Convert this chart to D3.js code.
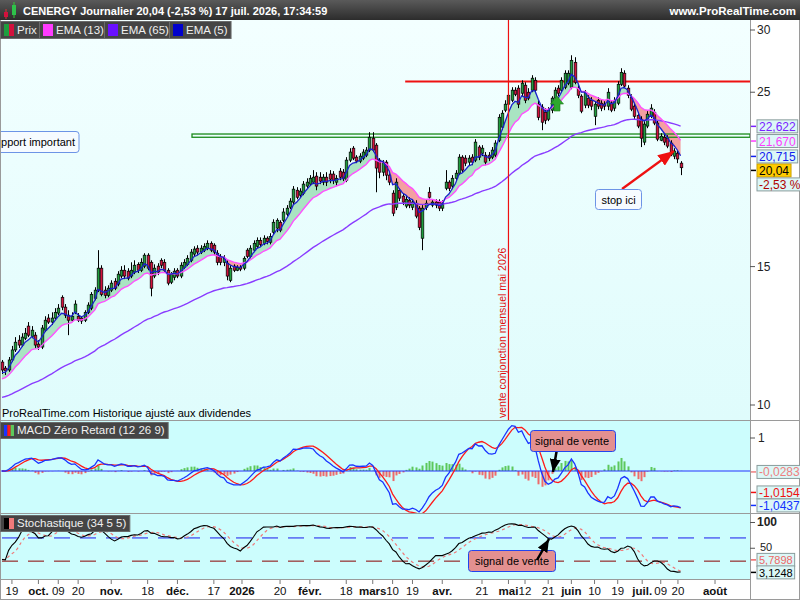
<!DOCTYPE html>
<html lang="fr">
<head>
<meta charset="UTF-8">
<script src="https://d3js.org/d3.v7.min.js"></script>
<title>CENERGY Journalier</title>
<style>
  body { margin: 0; background: #fff; }
  svg text { font-family: "Liberation Sans", Arial, sans-serif; }
</style>
</head>
<body>
<svg id="chart" width="800" height="600"></svg>
<script>
// daily bars, CENERGY
const opens = [
  11.34,11.14,11.08,11.41,11.75,12.09,11.92,12.16,12.60,12.23,
  12.27,11.95,11.85,12.45,12.90,12.75,12.90,13.09,13.71,13.32,
  13.01,12.82,13.12,12.97,12.90,12.82,13.12,13.28,13.67,14.00,
  14.93,14.00,13.79,14.00,14.37,14.25,14.59,14.84,14.80,14.59,
  14.76,15.10,14.84,15.02,15.51,15.19,14.59,15.02,15.28,15.19,
  14.84,14.33,14.54,14.84,14.59,14.97,15.10,15.28,15.56,15.83,
  15.65,15.74,15.83,16.06,15.97,15.60,15.46,15.19,15.15,14.41,
  15.02,14.84,14.97,14.93,15.74,15.46,15.74,15.92,16.20,16.06,
  16.30,16.11,16.59,16.79,17.08,17.18,17.49,17.85,18.12,18.76,
  18.49,18.60,18.99,19.10,19.21,19.55,19.49,19.21,19.49,19.67,
  19.67,19.21,19.84,19.78,19.32,20.49,21.22,20.67,20.43,20.61,
  20.79,21.10,21.85,21.41,20.49,19.78,20.37,19.61,18.60,17.85,
  18.76,18.44,17.91,18.22,17.85,18.06,17.80,16.30,17.85,18.65,
  17.96,18.12,18.12,17.80,18.87,19.21,18.99,19.43,19.72,20.67,
  20.61,20.37,20.67,20.49,21.29,20.91,20.79,20.79,20.67,20.79,
  21.72,22.57,23.72,24.14,24.42,25.15,25.30,24.93,25.52,25.00,
  25.15,25.89,24.14,23.93,23.58,23.10,23.72,24.57,25.30,25.15,
  25.37,25.67,25.37,27.29,25.30,24.71,24.07,24.57,24.42,23.30,
  24.42,24.21,24.14,24.00,24.21,23.86,24.21,25.59,26.43,25.30,
  24.64,24.00,23.37,23.10,21.60,22.64,23.30,23.58,22.84,21.72,
  21.91,21.85,21.54,20.73,20.91,20.31
];
const highs = [
  11.41,11.21,11.51,11.89,12.20,12.27,12.34,12.53,12.75,12.60,
  12.38,12.09,12.64,12.97,13.05,13.12,13.28,13.44,13.79,13.44,
  13.20,13.12,13.59,13.09,12.97,13.20,13.51,13.92,14.12,15.74,
  15.06,14.16,14.20,14.41,14.50,14.80,15.02,15.06,14.93,15.19,
  15.28,15.19,15.37,15.60,15.60,15.28,15.10,15.15,15.37,15.33,
  14.93,14.76,14.93,14.93,15.19,15.33,15.51,15.79,15.92,15.97,
  15.97,16.06,16.20,16.15,16.06,15.74,15.56,15.51,15.28,15.06,
  15.10,15.06,15.06,15.46,15.83,15.97,16.20,16.34,16.34,16.44,
  16.39,16.54,17.23,17.28,17.18,17.80,17.96,18.33,18.99,18.93,
  18.87,19.27,19.43,19.61,19.90,19.78,19.78,19.67,19.78,19.90,
  19.84,19.61,20.02,19.96,20.67,21.22,21.35,20.79,20.91,21.16,
  21.29,22.24,22.24,21.54,20.61,20.49,20.49,19.72,18.76,19.43,
  18.87,18.60,18.44,18.38,18.27,18.22,17.91,17.96,18.22,18.93,
  18.27,18.27,18.27,18.22,19.90,19.32,19.61,19.90,20.85,20.79,
  20.79,20.79,20.85,21.79,21.41,21.41,20.98,20.98,21.29,21.72,
  23.44,23.72,24.42,25.00,25.37,25.37,25.52,25.89,25.74,25.30,
  26.28,26.12,24.42,24.14,23.86,23.93,24.71,25.37,25.52,26.12,
  26.66,26.66,27.86,27.70,25.52,24.85,25.15,24.78,24.64,24.35,
  24.64,24.42,24.35,25.30,24.42,24.64,25.82,26.82,26.66,25.52,
  24.85,24.21,23.58,23.30,22.97,23.65,24.14,23.79,23.03,22.17,
  22.11,22.04,21.72,21.22,21.10,20.43
];
const lows = [
  10.95,10.92,11.02,11.34,11.68,11.82,11.85,12.09,12.20,12.16,
  11.82,11.75,11.78,12.38,12.68,12.64,12.82,13.01,13.20,12.90,
  12.27,12.75,13.05,12.75,12.68,12.75,13.05,13.20,13.59,13.92,
  13.75,13.67,13.71,13.92,14.00,14.16,14.50,14.46,14.41,14.50,
  14.67,14.72,14.76,14.93,14.84,13.75,14.50,14.63,14.93,14.76,
  14.20,14.25,14.41,14.50,14.50,14.89,15.02,15.19,15.46,15.51,
  15.56,15.65,15.74,15.65,15.51,15.06,15.06,15.02,14.41,14.33,
  14.76,14.80,14.80,14.84,15.37,15.37,15.65,15.83,15.88,15.97,
  16.01,16.01,16.49,16.59,16.59,17.08,17.39,17.75,17.96,18.27,
  18.38,18.49,18.87,18.99,19.10,18.76,19.10,19.04,18.99,19.15,
  19.10,18.99,19.32,19.27,19.21,20.37,20.49,20.31,20.31,20.49,
  20.67,20.98,20.98,18.65,19.43,19.55,19.32,19.04,17.39,17.70,
  18.17,17.96,17.80,17.80,17.70,17.28,16.69,15.74,17.70,18.22,
  17.85,17.80,17.65,17.65,18.76,18.71,18.82,19.32,19.61,19.78,
  20.13,20.19,20.19,20.37,20.49,20.73,20.19,20.43,20.55,20.67,
  21.60,22.37,23.58,23.93,24.28,24.71,23.86,24.71,24.21,24.42,
  25.00,24.93,23.03,22.37,22.77,22.97,23.51,24.42,24.71,25.00,
  25.22,25.52,25.22,25.59,24.57,23.51,23.86,23.86,23.72,22.70,
  23.79,23.65,23.72,23.72,23.58,23.65,24.07,25.45,25.30,24.57,
  23.65,23.10,22.50,21.29,21.41,22.50,23.17,22.70,21.66,21.66,
  21.41,21.22,20.73,20.55,20.31,19.61
];
const closes = [
  11.08,11.05,11.41,11.75,12.02,11.92,12.20,12.34,12.27,12.45,
  11.92,11.85,12.53,12.82,12.75,12.90,13.12,13.28,13.32,13.01,
  12.82,12.97,13.44,12.82,12.79,13.12,13.40,13.83,14.00,14.93,
  13.83,13.79,14.08,14.29,14.08,14.67,14.84,14.59,14.50,14.84,
  15.06,14.84,15.19,15.51,14.93,14.08,14.93,14.76,15.06,14.84,
  14.29,14.67,14.80,14.59,15.06,15.19,15.37,15.65,15.79,15.65,
  15.83,15.92,16.06,15.74,15.65,15.19,15.19,15.37,14.59,14.93,
  14.84,14.97,14.89,15.37,15.46,15.83,16.06,16.20,16.01,16.30,
  16.15,16.39,17.08,17.18,16.69,17.60,17.80,18.17,18.82,18.38,
  18.71,19.10,19.21,19.43,19.49,18.99,19.27,19.49,19.21,19.38,
  19.32,19.43,19.49,19.43,20.49,20.98,20.61,20.43,20.73,20.98,
  21.10,21.91,21.10,20.02,19.78,20.37,19.61,19.21,17.54,19.21,
  18.33,18.12,18.27,17.96,18.12,17.39,16.83,17.80,18.06,18.38,
  18.12,17.96,17.80,18.06,19.21,18.87,19.43,19.72,20.67,19.90,
  20.31,20.61,20.37,21.60,20.67,21.22,20.37,20.61,21.10,21.54,
  23.23,23.51,24.14,24.78,25.15,24.85,24.14,25.67,24.42,24.57,
  26.05,25.15,23.23,22.90,23.03,23.72,24.57,25.15,24.93,25.89,
  26.43,26.43,27.45,25.74,24.78,23.65,25.00,24.07,24.00,24.14,
  24.00,23.86,24.00,25.00,23.72,24.42,25.59,26.50,25.45,24.78,
  23.79,23.30,22.64,21.85,22.77,23.44,23.86,22.84,21.79,21.98,
  21.60,21.35,20.85,21.04,20.56,20.04
];

// date axis: [bar index, label, month?]
const dateTicks = [
  [3,"19",0],[11,"oct.",1],[17,"09",0],[23,"20",0],[33,"nov.",1],[44,"18",0],
  [53,"déc.",1],[64,"17",0],[72.5,"2026",1],[84,"20",0],[93,"févr.",1],[104,"18",0],
  [112,"mars",1],[118,"10",0],[124,"19",0],[133,"avr.",1],[145,"21",0],[153,"mai",1],
  [158,"12",0],[165,"21",0],[172,"juin",1],[179,"10",0],[186,"19",0],[193.4,"juil.",1],
  [199,"09",0],[204.2,"20",0],[215.4,"août",1]
];
const priceTicks = [10, 15, 25, 30];
const macdTicks = [1];
const stochTicks = [[100, true], [50, false]];
const stochLevels = [70, 25];

// EMA values at the first visible bar (history starts before the window)
const emaSeeds = { 5: 10.95, 13: 10.75, 65: 10.20 };

// last values shown in the right scale
const priceLast = [["22,622", 22.622, "#7a22ff"], ["21,670", 21.670, "#ff3cff"], ["20,715", 20.715, "#1020ee"], ["20,04", 20.04, "#000"]];
const macdLast = [["-1,0437", -1.0437, "#1030ff"], ["-1,0154", -1.0154, "#ee1111"], ["-0,0283", -0.0283, "#ee8080"]];
const stochLast = [["3,1248", 3.1248, "#000"], ["5,7898", 5.7898, "#ee6666"]];

// drawings
const supportZone = [21.91, 22.12], supportFrom = 57.4;
const resistanceLevel = 25.8, resistanceFrom = 121.8;
const signalBar = 153;

const svg = d3.select("#chart");
const W = 800, H = 600, plotR = 750;
const FS = 11;
const x = d3.scaleLinear().domain([0, closes.length - 1]).range([2, 680.6]);
const yP = d3.scaleLog().domain([10, 30]).range([405, 30]);
const yM = d3.scaleLinear().domain([-1.5, 1.5]).range([520.5, 421.5]);
const yS = d3.scaleLinear().domain([0, 100]).range([574, 522.5]);

// indicators
function ema(vals, n, seed) {
  const k = 2 / (n + 1);
  let e = seed === undefined ? vals[0] : seed;
  return vals.map((v, i) => {
    if (i === 0 && seed === undefined) return e;
    e = e + k * (v - e);
    return e;
  });
}
function zeroLag(vals, n) {
  const e1 = ema(vals, n), e2 = ema(e1, n);
  return e1.map((v, i) => 2 * v - e2[i]);
}
function sma(vals, n) {
  return vals.map((_, i) => d3.mean(vals.slice(Math.max(0, i - n + 1), i + 1)));
}
const ema5 = ema(closes, 5, emaSeeds[5]);
const ema13 = ema(closes, 13, emaSeeds[13]);
const ema65 = ema(closes, 65, emaSeeds[65]);
const z12 = zeroLag(closes, 12), z26 = zeroLag(closes, 26);
const macd = z12.map((v, i) => v - z26[i]);
const signal = zeroLag(macd, 9);
const hist = macd.map((v, i) => v - signal[i]);
const raw = closes.map((c, i) => {
  const s = Math.max(0, i - 33);
  const hh = d3.max(highs.slice(s, i + 1)), ll = d3.min(lows.slice(s, i + 1));
  return hh === ll ? 50 : (c - ll) / (hh - ll) * 100;
});
const stochK = sma(raw, 5), stochD = sma(stochK, 5);
const idx = d3.range(closes.length);

// defs
const defs = svg.append("defs");
const g1 = defs.append("linearGradient").attr("id", "hdr").attr("x1", 0).attr("x2", 0).attr("y1", 0).attr("y2", 1);
g1.append("stop").attr("offset", "0%").attr("stop-color", "#5a5a5a");
g1.append("stop").attr("offset", "100%").attr("stop-color", "#2c2c2c");
const g2 = defs.append("linearGradient").attr("id", "bgMain").attr("x1", 0).attr("x2", 0).attr("y1", 0).attr("y2", 1);
g2.append("stop").attr("offset", "0%").attr("stop-color", "#f3ffff");
g2.append("stop").attr("offset", "100%").attr("stop-color", "#dffcfc");
[["clipMain", 20, 400], ["clipMacd", 421, 92], ["clipStoch", 514, 65]].forEach(([id, y0, h]) => {
  defs.append("clipPath").attr("id", id).append("rect").attr("x", 0).attr("y", y0).attr("width", plotR).attr("height", h);
});
function marker(id, color, w, l) {
  defs.append("marker").attr("id", id).attr("markerUnits", "userSpaceOnUse")
    .attr("markerWidth", l).attr("markerHeight", w).attr("refX", l).attr("refY", w / 2)
    .attr("orient", "auto")
    .append("path").attr("d", `M0,0L${l},${w / 2}L0,${w}Z`).attr("fill", color);
}
marker("arRed", "#ee1111", 13, 16);
marker("arBlack", "#000", 11, 13);

// backgrounds
svg.append("rect").attr("width", W).attr("height", H).attr("fill", "#fff");
svg.append("rect").attr("x", 0).attr("y", 20).attr("width", plotR).attr("height", 400).attr("fill", "url(#bgMain)");
svg.append("rect").attr("x", 0).attr("y", 421).attr("width", plotR).attr("height", 92).attr("fill", "#ccfdfd");
svg.append("rect").attr("x", 0).attr("y", 514).attr("width", plotR).attr("height", 65).attr("fill", "#ccfdfd");

// ---------- price panel ----------
const main = svg.append("g").attr("clip-path", "url(#clipMain)");

main.append("path").datum(idx)
  .attr("fill", "#a9e4c2")
  .attr("d", d3.area().x(i => x(i)).y0(i => yP(ema13[i])).y1(i => yP(Math.max(ema5[i], ema13[i]))));
main.append("path").datum(idx)
  .attr("fill", "#f3a0a0")
  .attr("d", d3.area().x(i => x(i)).y0(i => yP(ema13[i])).y1(i => yP(Math.min(ema5[i], ema13[i]))));

main.append("rect")
  .attr("x", x(supportFrom)).attr("y", yP(supportZone[1]))
  .attr("width", plotR - x(supportFrom)).attr("height", yP(supportZone[0]) - yP(supportZone[1]))
  .attr("fill", "none").attr("stroke", "#1a8a1a").attr("stroke-width", 1.3);

main.append("line")
  .attr("x1", x(resistanceFrom)).attr("x2", plotR)
  .attr("y1", yP(resistanceLevel)).attr("y2", yP(resistanceLevel))
  .attr("stroke", "#ee1111").attr("stroke-width", 2.2);

const candle = main.append("g");
candle.selectAll("line").data(idx).join("line")
  .attr("x1", i => Math.round(x(i)) + 0.5).attr("x2", i => Math.round(x(i)) + 0.5)
  .attr("y1", i => yP(highs[i])).attr("y2", i => yP(lows[i]))
  .attr("stroke", "#000").attr("stroke-width", 1);
candle.selectAll("rect").data(idx).join("rect")
  .attr("x", i => Math.round(x(i)) - 0.8).attr("width", 2.6)
  .attr("y", i => yP(Math.max(opens[i], closes[i])))
  .attr("height", i => Math.max(1, Math.abs(yP(opens[i]) - yP(closes[i]))))
  .attr("fill", i => closes[i] >= opens[i] ? "#1e9e3e" : "#d3113d")
  .attr("stroke", "#000").attr("stroke-width", 0.7);

const lineP = arr => d3.line().x(i => x(i)).y(i => yP(arr[i]));
main.append("path").datum(idx).attr("d", lineP(ema65)).attr("fill", "none").attr("stroke", "#8a3cff").attr("stroke-width", 1.4);
main.append("path").datum(idx).attr("d", lineP(ema13)).attr("fill", "none").attr("stroke", "#ff50ff").attr("stroke-width", 1.4);
main.append("path").datum(idx).attr("d", lineP(ema5)).attr("fill", "none").attr("stroke", "#1a22cc").attr("stroke-width", 1.3);

// sale signal line
main.append("line").attr("x1", x(signalBar)).attr("x2", x(signalBar)).attr("y1", 20).attr("y2", 420)
  .attr("stroke", "#ee1111").attr("stroke-width", 1.2);
main.append("text").attr("transform", `translate(${x(signalBar) - 2.5},418) rotate(-90)`)
  .attr("font-size", 10.5).attr("fill", "#e01010").text("vente conjonction mensuel mai 2026");

// green up arrow
main.append("path").attr("d", "M557,96 L563.5,104 L560,104 L560,111 L554,111 L554,104 L550.5,104 Z")
  .attr("fill", "#2ea82e").attr("stroke", "#1c7a1c").attr("stroke-width", 0.6);

// support label (box runs off the left edge)
main.append("rect").attr("x", -25).attr("y", 131.5).attr("width", 104).attr("height", 21).attr("rx", 3)
  .attr("fill", "#f6fbff").attr("stroke", "#6d94e6");
main.append("text").attr("x", 75).attr("y", 146).attr("text-anchor", "end").attr("font-size", FS).text("pport important");

// stop label + arrow
main.append("line").attr("x1", 622).attr("y1", 189).attr("x2", 674).attr("y2", 151)
  .attr("stroke", "#ee1111").attr("stroke-width", 2.2).attr("marker-end", "url(#arRed)");
main.append("rect").attr("x", 595.5).attr("y", 189.5).attr("width", 46).attr("height", 20).attr("rx", 3)
  .attr("fill", "#f6fbff").attr("stroke", "#6d94e6");
main.append("text").attr("x", 618.5).attr("y", 203.5).attr("text-anchor", "middle").attr("font-size", FS).text("stop ici");

main.append("text").attr("x", 2).attr("y", 417).attr("font-size", FS).attr("fill", "#000")
  .text("ProRealTime.com  Historique ajusté aux dividendes");

// ---------- MACD panel ----------
const mg = svg.append("g").attr("clip-path", "url(#clipMacd)");
mg.selectAll("rect").data(idx).join("rect")
  .attr("x", i => Math.round(x(i)) - 0.5).attr("width", 2)
  .attr("y", i => Math.min(yM(0), yM(hist[i])))
  .attr("height", i => Math.abs(yM(hist[i]) - yM(0)))
  .attr("fill", i => hist[i] >= 0 ? "#5cc85c" : "#ee6a6a");
mg.append("line").attr("x1", 0).attr("x2", plotR).attr("y1", yM(0)).attr("y2", yM(0))
  .attr("stroke", "#2233ff").attr("stroke-width", 1.2);
const lineM = arr => d3.line().x(i => x(i)).y(i => yM(arr[i]));
mg.append("path").datum(idx).attr("d", lineM(signal)).attr("fill", "none").attr("stroke", "#ff1a1a").attr("stroke-width", 1.3);
mg.append("path").datum(idx).attr("d", lineM(macd)).attr("fill", "none").attr("stroke", "#1a33ff").attr("stroke-width", 1.3);

mg.append("line").attr("x1", 558).attr("y1", 443).attr("x2", 553).attr("y2", 472)
  .attr("stroke", "#000").attr("stroke-width", 2.5).attr("marker-end", "url(#arBlack)");
mg.append("rect").attr("x", 530.5).attr("y", 430.5).attr("width", 85).attr("height", 21).attr("rx", 3)
  .attr("fill", "#e39090").attr("stroke", "#2244ee");
mg.append("text").attr("x", 535).attr("y", 445).attr("font-size", FS).text("signal de vente");

// ---------- Stochastic panel ----------
const sg = svg.append("g").attr("clip-path", "url(#clipStoch)");
sg.selectAll("line.lvl").data(stochLevels).join("line").attr("class", "lvl")
  .attr("x1", 0).attr("x2", plotR).attr("y1", d => yS(d)).attr("y2", d => yS(d))
  .attr("stroke", (d, i) => i === 0 ? "#1a1aee" : "#8a0000").attr("stroke-width", 1)
  .attr("stroke-dasharray", "16,10").attr("stroke-dashoffset", -2);
const lineS = arr => d3.line().x(i => x(i)).y(i => yS(arr[i]));
sg.append("path").datum(idx).attr("d", lineS(stochD)).attr("fill", "none").attr("stroke", "#f07a7a")
  .attr("stroke-width", 1.2).attr("stroke-dasharray", "3,3");
sg.append("path").datum(idx).attr("d", lineS(stochK)).attr("fill", "none").attr("stroke", "#000").attr("stroke-width", 1.1);

sg.append("rect").attr("x", 468.5).attr("y", 550.5).attr("width", 87).attr("height", 21).attr("rx", 3)
  .attr("fill", "#e39090").attr("stroke", "#2244ee");
sg.append("text").attr("x", 512).attr("y", 565).attr("text-anchor", "middle").attr("font-size", FS).text("signal de vente");
sg.append("line").attr("x1", 537).attr("y1", 560).attr("x2", 549).attr("y2", 539)
  .attr("stroke", "#000").attr("stroke-width", 2.5).attr("marker-end", "url(#arBlack)");

// ---------- frames & axes ----------
const frame = svg.append("g").attr("stroke", "#9a9a9a").attr("stroke-width", 1);
frame.append("line").attr("x1", 0).attr("x2", W).attr("y1", 420.5).attr("y2", 420.5);
frame.append("line").attr("x1", 0).attr("x2", W).attr("y1", 513.5).attr("y2", 513.5);
frame.append("line").attr("x1", 0).attr("x2", plotR).attr("y1", 579.5).attr("y2", 579.5);
frame.append("line").attr("x1", plotR + 0.5).attr("x2", plotR + 0.5).attr("y1", 20).attr("y2", H);
frame.append("rect").attr("x", 0.5).attr("y", 0.5).attr("width", W - 1).attr("height", H - 1).attr("fill", "none");

const ax = svg.append("g").attr("font-size", FS + 1).attr("fill", "#222");
priceTicks.forEach(v => {
  ax.append("line").attr("x1", plotR).attr("x2", plotR + 5).attr("y1", yP(v)).attr("y2", yP(v)).attr("stroke", "#555");
  ax.append("text").attr("x", plotR + 7).attr("y", yP(v) + 4).text(v);
});
macdTicks.forEach(v => {
  ax.append("line").attr("x1", plotR).attr("x2", plotR + 5).attr("y1", yM(v)).attr("y2", yM(v)).attr("stroke", "#555");
  ax.append("text").attr("x", plotR + 8).attr("y", yM(v) + 4).text(v);
});
stochTicks.forEach(([v, b]) => {
  ax.append("line").attr("x1", plotR).attr("x2", plotR + 5).attr("y1", yS(v)).attr("y2", yS(v)).attr("stroke", "#555");
  ax.append("text").attr("x", plotR + (b ? 7 : 10)).attr("y", yS(v) + 3)
    .attr("font-size", b ? FS + 1 : FS).attr("font-weight", b ? "bold" : "normal").text(v);
});

const dx = svg.append("g").attr("font-size", FS + 0.5);
dateTicks.forEach(([i, lab, m]) => {
  const xi = x(i);
  dx.append("line").attr("x1", xi).attr("x2", xi).attr("y1", 580).attr("y2", 584).attr("stroke", "#777");
  dx.append("text").attr("x", xi).attr("y", 595).attr("text-anchor", "middle")
    .attr("font-weight", m ? "bold" : "normal").attr("fill", "#111").text(lab);
});

// value boxes on the right scale
function valueBox(g, txt, yy, col, fill, stroke) {
  g.append("line").attr("x1", plotR + 1).attr("x2", plotR + 6).attr("y1", yy).attr("y2", yy)
    .attr("stroke", col).attr("stroke-width", 1.5);
  const r = g.append("rect").attr("x", plotR + 7).attr("y", yy - 6.5).attr("height", 13)
    .attr("fill", fill).attr("stroke", stroke);
  const t = g.append("text").attr("x", plotR + 9).attr("y", yy + 4.5).attr("fill", col).text(txt);
  r.attr("width", t.node().getComputedTextLength() + 4);
}
function valueBoxes(list, yScale, gap, closeBox, fs) {
  const placed = [];
  const g = svg.append("g").attr("font-size", fs);
  list.forEach(([txt, v, col]) => {
    let yy = yScale(v);
    placed.forEach(p => {
      if (Math.abs(yy - p) < gap) yy = yy < p ? p - gap : p + gap;
    });
    placed.push(yy);
  });
  // draw in reverse so the first one ends on top
  list.map((d, k) => [d, placed[k]]).reverse().forEach(([[txt, v, col], yy]) => {
    const isClose = closeBox && col === "#000";
    valueBox(g, txt, yy, col, isClose ? "#ffcc00" : "#dcf7f7", isClose ? "#caa000" : "#8a9c9c");
  });
  return { g, placed };
}
const pb = valueBoxes(priceLast, yP, 14, true, FS + 1);
valueBox(pb.g, "-2,53 %", pb.placed[3] + 14, "#b00000", "#dcf7f7", "#8a9c9c");
pb.g.select("line:last-of-type").remove();
valueBoxes(macdLast, yM, 13, false, FS + 1);
valueBoxes(stochLast, yS, 12.5, false, FS);

// ---------- header & legends ----------
svg.append("rect").attr("x", 0).attr("y", 0).attr("width", W).attr("height", 20).attr("fill", "url(#hdr)");
const ic = svg.append("g");
ic.append("line").attr("x1", 6).attr("x2", 6).attr("y1", 9).attr("y2", 19).attr("stroke", "#d33");
ic.append("rect").attr("x", 4).attr("y", 12).attr("width", 4).attr("height", 5).attr("fill", "#d3113d");
ic.append("line").attr("x1", 14).attr("x2", 14).attr("y1", 2).attr("y2", 18).attr("stroke", "#3c3");
ic.append("rect").attr("x", 12).attr("y", 5).attr("width", 4).attr("height", 10).attr("fill", "#2ec24a");
svg.append("text").attr("x", 23).attr("y", 15).attr("font-size", FS).attr("font-weight", "bold").attr("fill", "#fff")
  .text("CENERGY Journalier 20,04 (-2,53 %) 17 juil. 2026, 17:34:59");
svg.append("text").attr("x", 796).attr("y", 15).attr("font-size", FS + 0.5).attr("font-weight", "bold").attr("fill", "#fff")
  .attr("text-anchor", "end").text("www.ProRealTime.com");

function legendBox(x0, y0, w, h, colors, label) {
  const g = svg.append("g");
  const box = g.append("rect").attr("x", x0 + 0.5).attr("y", y0 + 0.5).attr("height", h)
    .attr("fill", "#454545").attr("stroke", "#6a6a6a");
  const cw = 10 / colors.length;
  colors.forEach((c, k) => g.append("rect").attr("x", x0 + 4 + k * cw).attr("y", y0 + 3).attr("width", cw)
    .attr("height", h - 5).attr("fill", c));
  const t = g.append("text").attr("x", x0 + 17).attr("y", y0 + h - 4).attr("font-size", FS + 0.5)
    .attr("fill", "#f0f0f0").text(label);
  box.attr("width", Math.max(w, t.node().getComputedTextLength() + 20));
}
legendBox(0, 21, 37, 17, ["#1e9e3e", "#d3113d"], "Prix");
legendBox(39, 21, 64, 17, ["#ff3cff"], "EMA (13)");
legendBox(104, 21, 64, 17, ["#6a10ff"], "EMA (65)");
legendBox(169, 21, 59, 17, ["#0000cc"], "EMA (5)");
legendBox(0, 422, 155, 16, ["#1a33ff", "#ff1a1a", "#5cc85c"], "MACD Zéro Retard (12 26 9)");
legendBox(0, 515, 124, 16, ["#000", "#f07a7a"], "Stochastique (34 5 5)");
</script>
</body>
</html>
